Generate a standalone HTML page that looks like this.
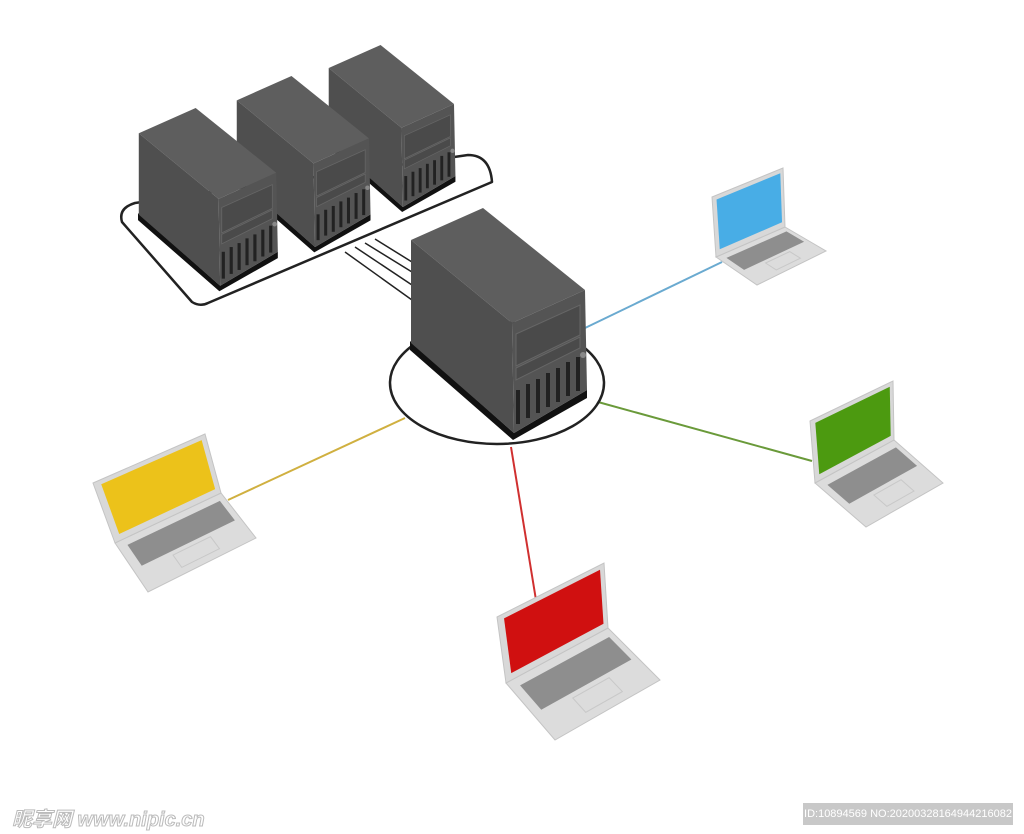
<!DOCTYPE html>
<html><head><meta charset="utf-8"><style>
html,body{margin:0;padding:0;background:#fff;width:1024px;height:834px;overflow:hidden}
svg{display:block}
.wm{position:absolute;left:12px;top:803px;font:italic bold 20px "Liberation Sans","Noto Sans CJK SC",sans-serif;color:#fff;-webkit-text-stroke:1px #bbb}
.id{position:absolute;left:803px;top:803px;width:210px;height:22px;background:#c8c8c8;color:#fff;font:11px "Liberation Sans",sans-serif;line-height:22px;text-align:center}
</style></head><body>
<svg id="s" width="1024" height="834" viewBox="0 0 1024 834" xmlns="http://www.w3.org/2000/svg">
<defs>
<g id="srv">
<polygon points="0,133 0,142 103,232 177,190 177,182 104,225" fill="#111"/>
<polygon points="1,32 73,0 175,82 102,115" fill="#5e5e5e"/>
<polygon points="1,32 102,115 104,225 1,135" fill="#4f4f4f"/>
<polygon points="102,115 175,82 177,182 104,225" fill="#545454"/>
<polygon points="106,126 170,97 170,127 106,158" fill="#4a4a4a" stroke="#666" stroke-width="1"/>
<polygon points="106,160 170,129 170,140 106,172" fill="#4a4a4a" stroke="#666" stroke-width="1"/>
<g stroke="#222" stroke-width="4">
<line x1="108" y1="182" x2="108" y2="216"/><line x1="118" y1="176" x2="118" y2="210"/>
<line x1="128" y1="171" x2="128" y2="205"/><line x1="138" y1="165" x2="138" y2="199"/>
<line x1="148" y1="160" x2="148" y2="194"/><line x1="158" y1="154" x2="158" y2="188"/>
<line x1="168" y1="149" x2="168" y2="183"/></g>
<circle cx="173" cy="147" r="3" fill="#888"/>
</g>
</defs>
<!-- platform -->
<path d="M135,203 L468,155 Q490,155 492,182 L208,303 Q200,307 192,302 L122,222 Q118,208 135,203 Z" fill="none" stroke="#222" stroke-width="2.5" stroke-linejoin="round"/>
<g stroke="#222" stroke-width="1.5">
<line x1="345" y1="252" x2="412" y2="300"/><line x1="355" y1="247" x2="412" y2="285"/>
<line x1="365" y1="243" x2="412" y2="272"/><line x1="375" y1="239" x2="412" y2="262"/>
</g>
<use href="#srv" transform="translate(328,45) scale(0.72)"/>
<use href="#srv" transform="translate(236,76) scale(0.76)"/>
<use href="#srv" transform="translate(138,108) scale(0.79)"/>
<!-- connectors -->
<line x1="585" y1="328" x2="722" y2="262" stroke="#6aaad0" stroke-width="2"/>
<line x1="598" y1="402" x2="812" y2="461" stroke="#6a9a3a" stroke-width="2"/>
<line x1="511" y1="447" x2="536" y2="600" stroke="#d03030" stroke-width="2"/>
<line x1="228" y1="500" x2="405" y2="418" stroke="#d0b040" stroke-width="2"/>
<ellipse cx="497" cy="383" rx="107" ry="61" fill="none" stroke="#222" stroke-width="2.5"/>
<use href="#srv" transform="translate(410,208)"/>
<g id="laps"></g>
</svg>
<div class="wm">昵享网 www.nipic.cn</div>
<div class="id">ID:10894569 NO:20200328164944216082</div>
<script>
function L(A,B,C,D,E,F,col){
 const lerp=(p,q,t)=>[p[0]+(q[0]-p[0])*t,p[1]+(q[1]-p[1])*t];
 const bl=(t,u)=>{const a=lerp(D,C,t),b=lerp(F,E,t);return lerp(a,b,u)};
 const sl=(t,u)=>{const a=lerp(A,B,t),b=lerp(D,C,t);return lerp(a,b,u)};
 const P=a=>a.map(p=>p.join(',')).join(' ');
 let s='';
 s+=`<polygon points="${P([D,C,E,F])}" fill="#dcdcdc" stroke="#c4c4c4"/>`;
 s+=`<polygon points="${P([bl(.08,.12),bl(.95,.12),bl(.95,.55),bl(.08,.55)])}" fill="#8e8e8e"/>`;
 s+=`<polygon points="${P([bl(.35,.62),bl(.7,.62),bl(.7,.88),bl(.35,.88)])}" fill="none" stroke="#c8c8c8"/>`;
 s+=`<polygon points="${P([A,B,C,D])}" fill="#d8d8d8" stroke="#c4c4c4"/>`;
 s+=`<polygon points="${P([sl(.06,.07),sl(.96,.07),sl(.96,.9),sl(.06,.9)])}" fill="${col}"/>`;
 return s;
}
document.getElementById('laps').innerHTML=
 L([712,197],[783,168],[785,227],[716,257],[826,251],[757,285],'#48ade6')+
 L([93,483],[205,434],[221,493],[115,543],[256,538],[148,592],'#ecc21a')+
 L([497,617],[604,563],[608,628],[506,683],[660,680],[555,740],'#d01010')+
 L([810,421],[893,381],[894,440],[815,483],[943,483],[866,527],'#4c9a10');
</script>
</body></html>
